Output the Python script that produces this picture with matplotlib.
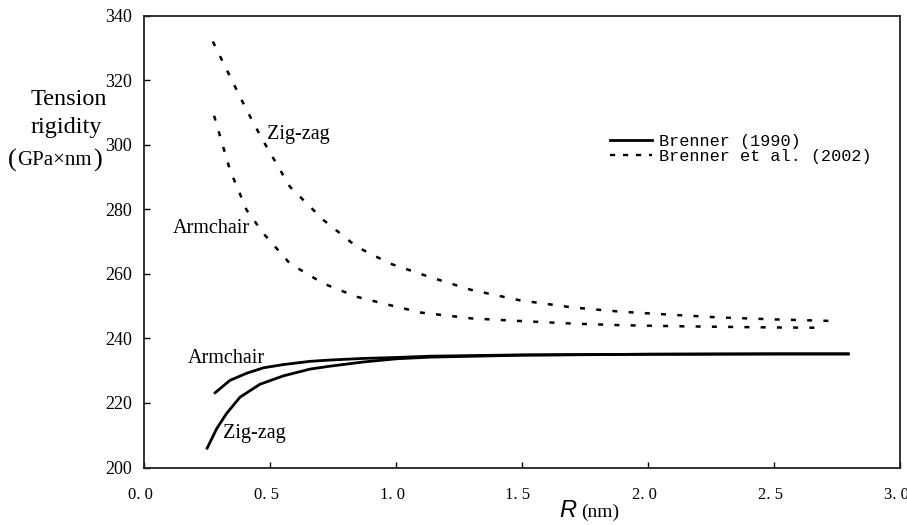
import matplotlib
matplotlib.use("Agg")
import matplotlib.pyplot as plt
from matplotlib.lines import Line2D
import matplotlib.transforms as mtransforms

# ---------------- data ----------------
# Brenner et al. (2002), dashed
R_zz_2002 = [0.273, 0.341, 0.407, 0.467, 0.579, 0.712, 0.844, 0.976, 1.135,
             1.30, 1.492, 1.70, 1.889, 2.10, 2.286, 2.50, 2.734]
T_zz_2002 = [332.0, 321.2, 310.8, 302.0, 287.0, 276.7, 268.4, 263.2, 259.0,
             255.0, 251.8, 249.6, 248.3, 247.3, 246.5, 245.9, 245.4]

R_ac_2002 = [0.278, 0.341, 0.407, 0.474, 0.579, 0.712, 0.844, 0.976, 1.10,
             1.30, 1.492, 1.70, 1.889, 2.10, 2.286, 2.50, 2.702]
T_ac_2002 = [309.0, 292.2, 279.8, 272.5, 263.2, 257.0, 252.9, 250.3, 248.0,
             246.2, 245.4, 244.6, 244.1, 243.8, 243.6, 243.4, 243.3]

# Brenner (1990), solid
R_ac_1990 = [0.278, 0.341, 0.407, 0.474, 0.553, 0.659, 0.738, 0.870, 1.003,
             1.135, 1.5, 2.0, 2.5, 2.80]
T_ac_1990 = [222.9, 227.0, 229.2, 230.9, 231.9, 232.9, 233.3, 233.8, 234.1,
             234.5, 234.9, 235.1, 235.2, 235.2]

R_zz_1990 = [0.248, 0.288, 0.328, 0.381, 0.460, 0.553, 0.659, 0.738, 0.870,
             1.003, 1.135, 1.5, 2.0, 2.5, 2.80]
T_zz_1990 = [205.6, 212.0, 216.8, 221.8, 225.8, 228.4, 230.5, 231.4, 232.7,
             233.7, 234.2, 234.8, 235.1, 235.2, 235.2]

X_TICKS = [0.0, 0.5, 1.0, 1.5, 2.0, 2.5, 3.0]
Y_TICKS = [200, 220, 240, 260, 280, 300, 320, 340]
LEGEND_LABELS = ["Brenner (1990)", "Brenner et al. (2002)"]
# ----------------------------------------------------------

SERIF = "Liberation Serif"
MONO = "Liberation Mono"
DASH = (0, (2.0, 4.5))


def main():
    fig = plt.figure(figsize=(9.07, 5.25), dpi=100)
    ax = fig.add_axes([0.1588, 0.1095, 0.8335, 0.8606])

    ax.plot(R_zz_2002, T_zz_2002, color="black", lw=1.8, linestyle=DASH)
    ax.plot(R_ac_2002, T_ac_2002, color="black", lw=1.8, linestyle=DASH)
    ax.plot(R_ac_1990, T_ac_1990, color="black", lw=2.0, solid_capstyle="butt")
    ax.plot(R_zz_1990, T_zz_1990, color="black", lw=2.0, solid_capstyle="butt")

    ax.set_xlim(0.0, 3.0)
    ax.set_ylim(200, 340)
    ax.set_xticks(X_TICKS)
    ax.set_xticklabels([f"{v:.1f}".replace(".", ". ") for v in X_TICKS],
                       family=SERIF, fontsize=12)
    ax.set_yticks(Y_TICKS)
    ax.set_yticklabels([str(v) for v in Y_TICKS], family=SERIF, fontsize=13)
    ax.tick_params(direction="in", length=4, width=1, colors="black")
    ax.tick_params(axis="y", pad=8.5)
    ax.tick_params(axis="x", pad=14)
    # nudge x tick labels a little left like the original
    shift = mtransforms.ScaledTranslation(-4 / 100, 0, fig.dpi_scale_trans)
    for t in ax.get_xticklabels():
        t.set_transform(t.get_transform() + shift)
    for s in ax.spines.values():
        s.set_linewidth(1.3)
        s.set_color("#222222")

    # curve labels
    lab = dict(family=SERIF, fontsize=14.5, va="center", ha="left")
    ax.text(0.487, 303.1, "Zig-zag", **lab)
    ax.text(0.115, 274.2, "Armchair", **lab)
    ax.text(0.175, 233.8, "Armchair", **lab)
    ax.text(0.313, 210.6, "Zig-zag", **lab)

    # y label block
    fig.text(0.034, 0.81, "Tension", family=SERIF, fontsize=17.5, va="center")
    fig.text(0.034, 0.757, "rigidity", family=SERIF, fontsize=17.5, va="center")
    fig.text(0.009, 0.695, "(", family=SERIF, fontsize=19, va="center")
    fig.text(0.019, 0.695, "GPa×nm", family=SERIF, fontsize=15, va="center")
    fig.text(0.103, 0.695, ")", family=SERIF, fontsize=19, va="center")

    # x label
    fig.text(0.617, 0.028, "R", fontsize=17, va="center", ha="left",
             family="Liberation Sans", style="italic")
    fig.text(0.641, 0.025, "(nm)", family=SERIF, fontsize=14, va="center")

    handles = [Line2D([], [], color="black", lw=2.0),
               Line2D([], [], color="black", lw=1.7, linestyle=(0, (2.2, 3.3)))]
    ax.legend(handles, LEGEND_LABELS, loc="upper left",
              bbox_to_anchor=(0.6055, 0.758), frameon=False,
              prop={"family": MONO, "size": 12.2}, handlelength=2.45,
              handletextpad=0.4, labelspacing=0.0, borderpad=0)

    fig.savefig("out.png", dpi=100)
    plt.close(fig)


if __name__ == "__main__":
    main()
